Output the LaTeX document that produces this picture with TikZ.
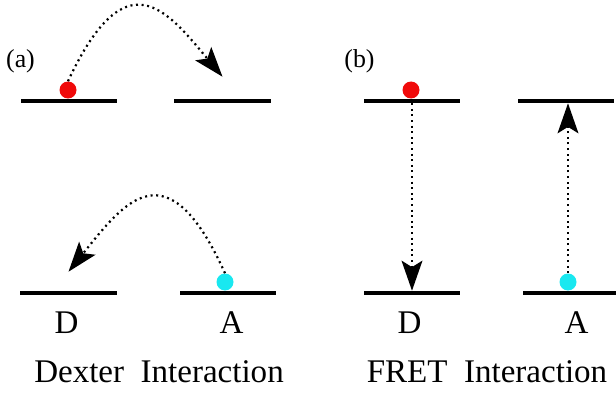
\documentclass[tikz,border=0pt]{standalone}
\usepackage{fontspec}
\setmainfont{Liberation Serif}
\usetikzlibrary{arrows.meta}
\definecolor{acyan}{RGB}{25,232,240}
\definecolor{dred}{RGB}{240,10,10}

\begin{document}
\begin{tikzpicture}[x=0.25mm, y=0.25mm,
  elvl/.style={rectangle, fill=black, inner sep=0pt, minimum width=24mm, minimum height=1mm},
  exc/.style={circle, fill=#1, inner sep=0pt, minimum size=4.25mm},
  xfer/.style={line width=0.55mm, dash pattern=on 0.5mm off 0.9mm, -{Stealth[length=7.5mm, width=5.2mm, inset=1.6mm]}},
  lbl/.style={font=\fontsize{23.5}{28}\selectfont, anchor=base},
  tag/.style={font=\fontsize{18.4}{22}\selectfont}]

\useasboundingbox (0,0) rectangle (616,394);

% ========== (a) Dexter ==========
\node[tag] (tagA) at (20.5,333) {(a)};

% levels
\node[elvl] (aDu) at (69,293) {};
\node[elvl] (aAu) at (222.5,293) {};
\node[elvl] (aDl) at (68.5,101) {};
\node[elvl] (aAl) at (228,101) {};

% excitons
\node[exc=dred] (rDa) at (68,304) {};
\node[exc=acyan] (cDa) at (225,112) {};

% exchange hops
\draw[xfer] (rDa.north) .. controls +(58,124) and +(-56,67) .. ([yshift=5.5mm]aAu.north);
\draw[xfer] (cDa.north) .. controls +(-58,128) and +(56,70) .. ([yshift=4.75mm]aDl.north);

\node[lbl] (dA) at (66.5,61) {D};
\node[lbl] (aA) at (231.5,61) {A};
\node[lbl] (titleA) at (159,12) {Dexter~~Interaction};

% ========== (b) FRET ==========
\node[tag] (tagB) at (359.5,333) {(b)};

% levels
\node[elvl] (bDu) at (412,293) {};
\node[elvl] (bAu) at (566,293) {};
\node[elvl] (bDl) at (412,101) {};
\node[elvl] (bAl) at (571,101) {};

% excitons
\node[exc=dred] (rDb) at (411,304) {};
\node[exc=acyan] (cAb) at (568,112) {};

% dipole transfer
\draw[xfer] (bDu.south) -- (bDl.north);
\draw[xfer] (cAb.north) -- (cAb |- bAu.south);

\node[lbl] (dB) at (409.5,61) {D};
\node[lbl] (aB) at (576.5,61) {A};
\node[lbl] (titleB) at (487,12) {FRET~~Interaction};

\end{tikzpicture}
\end{document}
